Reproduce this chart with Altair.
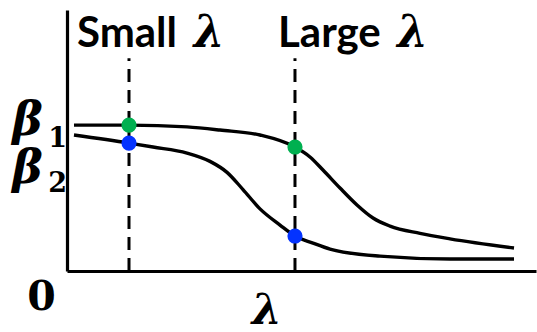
import altair as alt
import pandas as pd

# Shrinkage paths of two coefficients as the penalty lambda grows
lam1 = [0.149, 1.322, 2.559, 3.262, 4.115, 4.861, 5.181, 5.458, 5.821, 6.183, 6.525, 6.887, 7.527, 8.166, 9.531]
beta1 = [0.559, 0.559, 0.552, 0.540, 0.521, 0.475, 0.437, 0.387, 0.318, 0.253, 0.203, 0.172, 0.144, 0.123, 0.088]
lam2 = [0.149, 1.322, 1.834, 2.559, 3.049, 3.412, 3.753, 4.115, 4.542, 4.861, 5.245, 5.608, 6.674, 8.166, 9.531]
beta2 = [0.521, 0.490, 0.475, 0.452, 0.420, 0.378, 0.312, 0.238, 0.176, 0.134, 0.107, 0.084, 0.057, 0.046, 0.046]

# The two lambda values that are marked
marked_lam = [1.322, 4.861]
marked_words = ["Small", "Large"]
marked_beta1 = [0.559, 0.475]
marked_beta2 = [0.490, 0.134]

curves = pd.concat([
    pd.DataFrame({"lam": lam1, "beta": beta1, "coef": "b1"}),
    pd.DataFrame({"lam": lam2, "beta": beta2, "coef": "b2"}),
])
marks = pd.DataFrame({
    "lam": marked_lam,
    "word": marked_words,
    "word_x": [0.213, 4.499],
    "sym_x": [2.70, 7.04],
    "sym": ["\u03bb", "\u03bb"],
})
dots = pd.DataFrame({
    "lam": marked_lam * 2,
    "beta": marked_beta1 + marked_beta2,
    "coef": ["b1", "b1", "b2", "b2"],
})

xs = alt.Scale(domain=[0, 10], nice=False, zero=False)
ys = alt.Scale(domain=[0, 1], nice=False, zero=False)
bare = alt.Axis(domain=True, ticks=False, labels=False, grid=False, title=None)
X = lambda f: alt.X(f, type="quantitative", scale=xs, axis=bare)
Y = lambda f: alt.Y(f, type="quantitative", scale=ys, axis=bare)

lines = alt.Chart(curves).mark_line(color="black", strokeWidth=3.4, interpolate="monotone").encode(
    x=X("lam"), y=Y("beta"), detail="coef:N"
)

guides = alt.Chart(marks).mark_rule(color="black", strokeWidth=3, strokeDash=[13, 8]).encode(
    x=X("lam"), y=alt.datum(0), y2=alt.datum(0.815)
)

points = alt.Chart(dots).mark_circle(size=230, opacity=1).encode(
    x=X("lam"), y=Y("beta"),
    color=alt.Color("coef:N", scale=alt.Scale(domain=["b1", "b2"], range=["#00b050", "#0433ff"]), legend=None),
)

words = alt.Chart(marks).mark_text(
    font="Lato", fontWeight="bold", fontSize=42, align="left", baseline="alphabetic", color="black"
).encode(x=alt.X("word_x:Q", scale=xs), y=alt.datum(0.858), text="word:N")

word_syms = alt.Chart(marks).mark_text(
    font="DejaVu Serif", fontWeight="bold", fontStyle="italic", fontSize=44,
    align="left", baseline="alphabetic", color="black"
).encode(x=alt.X("sym_x:Q", scale=xs), y=alt.datum(0.858), text="sym:N")

# Axis annotations drawn as text in data space
greek_ann = pd.DataFrame({
    "x": [-1.17, -1.17, 3.94],
    "y": [0.521, 0.337, -0.203],
    "t": ["\u03b2", "\u03b2", "\u03bb"],
    "size": [46, 46, 43],
})
digit_ann = pd.DataFrame({
    "x": [-0.40, -0.40, -0.85],
    "y": [0.475, 0.303, -0.149],
    "t": ["1", "2", "0"],
    "size": [27, 27, 41],
})
greek = alt.Chart(greek_ann).mark_text(
    font="DejaVu Serif", fontWeight="bold", fontStyle="italic", align="left", baseline="alphabetic", color="black"
).encode(x=alt.X("x:Q", scale=xs), y=alt.Y("y:Q", scale=ys), text="t:N", size=alt.Size("size:Q", scale=None, legend=None))
digits = alt.Chart(digit_ann).mark_text(
    font="DejaVu Serif", fontWeight="bold", align="left", baseline="alphabetic", color="black"
).encode(x=alt.X("x:Q", scale=xs), y=alt.Y("y:Q", scale=ys), text="t:N", size=alt.Size("size:Q", scale=None, legend=None))

chart = alt.layer(lines, guides, points, words, word_syms, greek, digits).properties(
    width=469, height=261,
    padding={"left": 67, "top": 10, "right": 1, "bottom": 61},
    autosize="none",
).configure_view(stroke=None).configure_axis(domainColor="black", domainWidth=3.2)

chart.save("out.html", embed_options={"renderer": "svg", "actions": False})
